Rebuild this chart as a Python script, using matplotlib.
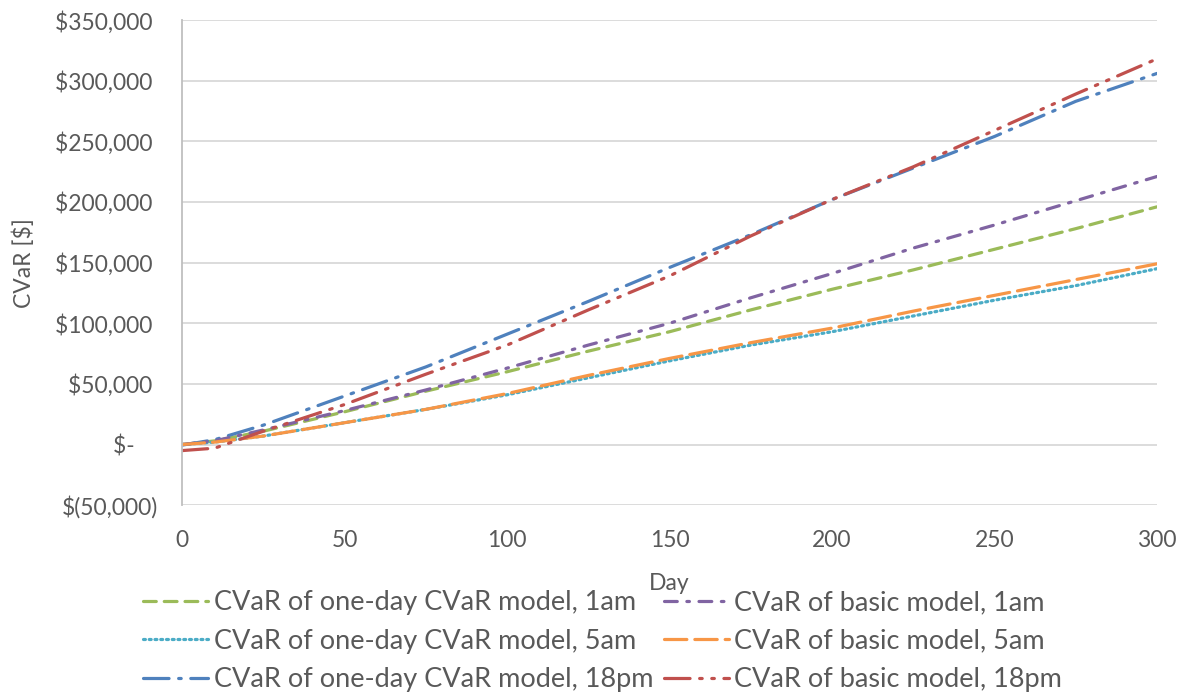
import matplotlib
matplotlib.use("Agg")
import matplotlib.pyplot as plt
from matplotlib.ticker import FuncFormatter, MultipleLocator

# values (CVaR in $ at given day)
days = [0, 10, 25, 50, 75, 100, 125, 150, 175, 200, 225, 250, 275, 300]

cvar_oneday_1am = [0, 3000, 11000, 27000, 44000, 60000, 77000, 93000, 111000, 128000, 144000, 161000, 178000, 196000]
cvar_oneday_5am = [0, 2000, 7000, 18000, 29000, 41000, 55000, 69000, 82000, 93000, 106000, 119000, 131000, 145000]
cvar_oneday_18pm = [-500, 4000, 16000, 40000, 64000, 91000, 118000, 146000, 173000, 202000, 228000, 254000, 283000, 306000]
cvar_basic_1am = [0, 3000, 12000, 28000, 45000, 63000, 82000, 100000, 121000, 141000, 162000, 181000, 201000, 221000]
cvar_basic_5am = [0, 2000, 7000, 18000, 29000, 42000, 57000, 71000, 84000, 96000, 110000, 123000, 136000, 149000]
cvar_basic_18pm = [-5000, -3000, 11000, 33000, 58000, 82000, 111000, 139000, 172000, 202000, 229000, 259000, 289000, 318000]

# legend fills column by column: one-day models left, basic models right
series = [
    ("CVaR of one-day CVaR model, 1am", cvar_oneday_1am, "#9BBB59", (0, (4, 2.5))),
    ("CVaR of one-day CVaR model, 5am", cvar_oneday_5am, "#4BACC6", (0, (0.6, 1.2))),
    ("CVaR of one-day CVaR model, 18pm", cvar_oneday_18pm, "#4F81BD", (0, (8, 3, 0.8, 3))),
    ("CVaR of basic model, 1am", cvar_basic_1am, "#8064A2", (0, (4, 3, 0.8, 3))),
    ("CVaR of basic model, 5am", cvar_basic_5am, "#F79646", (0, (7, 2.5))),
    ("CVaR of basic model, 18pm", cvar_basic_18pm, "#C0504D", (0, (8, 3, 0.8, 3, 0.8, 3))),
]

txt = "#595959"
plt.rcParams['font.family'] = ['Lato', 'DejaVu Sans']

fig = plt.figure(figsize=(11.83, 6.92), dpi=100)
ax = fig.add_axes([0.154, 0.27, 0.824, 0.701])

for label, vals, color, ls in series:
    ax.plot(days, vals, color=color, linestyle=ls, linewidth=2.3,
            label=label, dash_capstyle="round")

ax.set_xlim(0, 300)
ax.set_ylim(-50000, 350000)
ax.xaxis.set_major_locator(MultipleLocator(50))
ax.yaxis.set_major_locator(MultipleLocator(50000))


# accounting style labels like the spreadsheet: $-, $(50,000)
def money(v, pos):
    if abs(v) < 1:
        return "$-    "
    if v < 0:
        return "$({:,.0f})".format(-v)
    return "${:,.0f} ".format(v)


ax.yaxis.set_major_formatter(FuncFormatter(money))
ax.grid(axis="y", color="#D9D9D9", linewidth=1.3)
ax.set_axisbelow(True)
for s in ["top", "right", "bottom"]:
    ax.spines[s].set_visible(False)
ax.spines["left"].set_color("#BFBFBF")
ax.spines["left"].set_linewidth(1.3)
ax.tick_params(length=0, labelsize=16.5, colors=txt)
ax.tick_params(axis="y", pad=17)
ax.tick_params(axis="x", pad=18)

ax.set_xlabel("Day", fontsize=16.5, color=txt, labelpad=16)
ax.set_ylabel("CVaR [$]", fontsize=16.5, color=txt)
ax.yaxis.set_label_coords(-0.151, 0.5)

leg = ax.legend(loc="upper left", bbox_to_anchor=(-0.04, -0.175), ncol=2,
                frameon=False, fontsize=19.5, handlelength=2.4,
                columnspacing=0.4, labelspacing=0.5, handletextpad=0.2,
                borderaxespad=0, borderpad=0)
for t in leg.get_texts():
    t.set_color(txt)

fig.savefig("out.png", dpi=100)
